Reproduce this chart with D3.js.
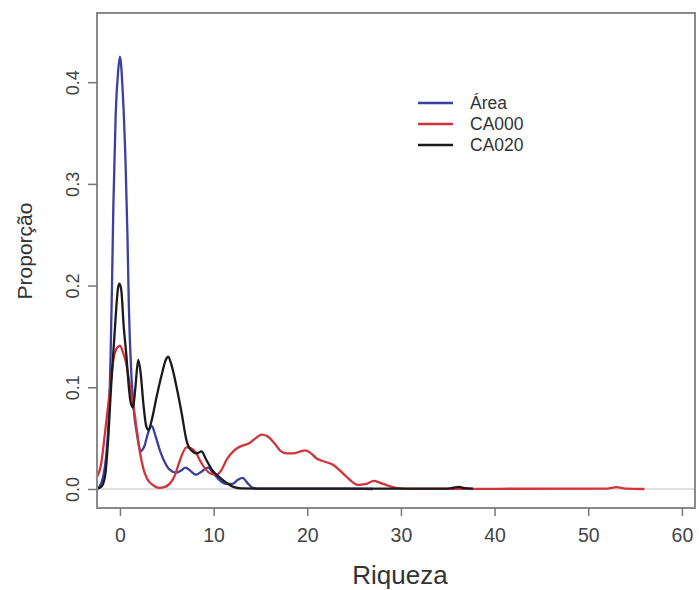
<!DOCTYPE html>
<html>
<head>
<meta charset="utf-8">
<script src="https://cdn.jsdelivr.net/npm/d3@7"></script>
<style>
  html, body { margin: 0; padding: 0; background: #fff; }
  svg { display: block; font-family: "Liberation Sans", Arial, sans-serif; }
</style>
</head>
<body>
<svg id="chart" width="699" height="590"></svg>
<script>
// ---- data ----
const seriesNames = ["Área", "CA000", "CA020"];
const seriesColors = ["#3b3fa0", "#d0343a", "#1a1a1a"];

const areaX = [-2.5, -2.2, -1.8, -1.5, -1.2, -1.0, -0.85, -0.7, -0.45, -0.2, 0, 0.3, 0.6, 0.8, 0.95, 1.25, 1.5, 1.8, 2.2, 2.6, 3.0, 3.4, 3.8, 4.3, 4.8, 5.3, 6.0, 6.5, 7.0, 7.5, 8.1, 8.7, 9.4, 10.0, 10.6, 11.3, 12.0, 12.6, 13.1, 13.6, 14.2, 15, 18, 21, 24, 27];
const areaY = [0.0, 0.002, 0.012, 0.03, 0.07, 0.13, 0.2, 0.28, 0.37, 0.41, 0.425, 0.39, 0.32, 0.25, 0.18, 0.107, 0.075, 0.055, 0.037, 0.042, 0.055, 0.062, 0.052, 0.037, 0.026, 0.019, 0.016, 0.018, 0.021, 0.018, 0.014, 0.017, 0.021, 0.015, 0.009, 0.005, 0.005, 0.009, 0.011, 0.006, 0.001, 0.0003, 0.0004, 0.0003, 0.0003, 0.0];

const ca000X = [-2.5, -2.0, -1.6, -1.1, -0.7, -0.3, 0, 0.3, 0.7, 1.0, 1.4, 1.8, 2.1, 2.5, 2.9, 3.5, 4.2, 4.8, 5.3, 5.8, 6.4, 7.1, 7.6, 8.1, 8.6, 9.1, 9.7, 10.3, 10.8, 11.4, 12.2, 12.9, 13.8, 14.5, 15.1, 15.7, 16.4, 17.2, 17.8, 18.5, 19.3, 19.8, 20.4, 21.0, 21.8, 22.7, 23.5, 24.2, 24.8, 25.4, 26.3, 27.1, 27.8, 28.4, 29.5, 30.5, 40, 52, 53, 54, 56];
const ca000Y = [0.011, 0.025, 0.055, 0.095, 0.127, 0.139, 0.141, 0.135, 0.122, 0.105, 0.084, 0.058, 0.038, 0.02, 0.01, 0.004, 0.001, 0.002, 0.005, 0.012, 0.028, 0.041, 0.04, 0.036, 0.027, 0.02, 0.015, 0.014, 0.018, 0.029, 0.038, 0.042, 0.045, 0.05, 0.0535, 0.052, 0.046, 0.037, 0.035, 0.035, 0.037, 0.038, 0.035, 0.03, 0.027, 0.024, 0.018, 0.012, 0.007, 0.004, 0.005, 0.008, 0.006, 0.004, 0.001, 0.0002, 0.0002, 0.0003, 0.0018, 0.0003, 0.0];

const ca020X = [-2.5, -2.0, -1.6, -1.25, -0.95, -0.7, -0.45, -0.2, -0.05, 0.15, 0.4, 0.7, 0.95, 1.15, 1.4, 1.65, 1.95, 2.2, 2.5, 2.8, 3.05, 3.4, 3.9, 4.45, 4.9, 5.15, 5.5, 6.05, 6.6, 7.1, 7.6, 8.2, 8.7, 9.2, 9.9, 10.7, 11.4, 12.1, 13, 20, 30, 35, 35.6, 36.2, 36.8, 37.7];
const ca020Y = [0.0, 0.002, 0.012, 0.05, 0.1, 0.135, 0.17, 0.198, 0.202, 0.195, 0.16, 0.13, 0.1, 0.085, 0.08, 0.1, 0.127, 0.115, 0.084, 0.062, 0.058, 0.068, 0.09, 0.112, 0.127, 0.13, 0.122, 0.1, 0.074, 0.048, 0.038, 0.035, 0.037, 0.029, 0.018, 0.011, 0.006, 0.002, 0.0005, 0.0003, 0.0003, 0.0004, 0.0012, 0.002, 0.0008, 0.0003];

const xTicks = [0, 10, 20, 30, 40, 50, 60];
const yTicks = [0.0, 0.1, 0.2, 0.3, 0.4];
const xLabel = "Riqueza";
const yLabel = "Proporção";

// ---- layout ----
const svg = d3.select("#chart");
const plot = { left: 97, right: 695, top: 13, bottom: 508 };
const x = d3.scaleLinear().domain([-2.45, 61.4]).range([plot.left, plot.right]);
const y = d3.scaleLinear().domain([-0.0187, 0.468]).range([plot.bottom, plot.top]);

// zero reference line
svg.append("line")
  .attr("x1", plot.left).attr("x2", plot.right)
  .attr("y1", y(0)).attr("y2", y(0))
  .attr("stroke", "#d4d4d4").attr("stroke-width", 1.5);

// curves
const series = [
  { xs: areaX, ys: areaY },
  { xs: ca000X, ys: ca000Y },
  { xs: ca020X, ys: ca020Y }
];
const line = d3.line().x(d => x(d[0])).y(d => y(d[1])).curve(d3.curveMonotoneX);
series.forEach((s, i) => {
  const pts = s.xs.map((v, j) => [v, s.ys[j]]);
  svg.append("path")
    .attr("d", line(pts))
    .attr("fill", "none")
    .attr("stroke", seriesColors[i])
    .attr("stroke-width", 2.3)
    .attr("stroke-linejoin", "round");
});

// frame
svg.append("rect")
  .attr("x", plot.left).attr("y", plot.top)
  .attr("width", plot.right - plot.left).attr("height", plot.bottom - plot.top)
  .attr("fill", "none").attr("stroke", "#8a8a8a").attr("stroke-width", 2);

// axes
const xAxis = d3.axisBottom(x).tickValues(xTicks).tickSize(8).tickPadding(12).tickFormat(d3.format("d"));
const gx = svg.append("g").attr("transform", `translate(0,${plot.bottom})`).call(xAxis);
gx.select(".domain").remove();
gx.selectAll(".tick line").attr("stroke", "#777").attr("stroke-width", 1.5);
gx.selectAll(".tick text").attr("fill", "#444").style("font-size", "19.5px")
  .style("font-family", "'Liberation Sans', Arial, sans-serif");

const yAxis = d3.axisLeft(y).tickValues(yTicks).tickSize(9).tickFormat(d3.format(".1f"));
const gy = svg.append("g").attr("transform", `translate(${plot.left},0)`).call(yAxis);
gy.select(".domain").remove();
gy.selectAll(".tick line").attr("stroke", "#777").attr("stroke-width", 1.5);
gy.selectAll(".tick text")
  .attr("x", null).attr("dy", null)
  .attr("fill", "#444").style("font-size", "18px")
  .style("font-family", "'Liberation Sans', Arial, sans-serif")
  .attr("text-anchor", "middle")
  .attr("transform", "translate(-24,0) rotate(-90)")
  .attr("dy", "0.35em");

// axis titles
svg.append("text")
  .attr("x", (plot.left + plot.right) / 2 + 4).attr("y", 584)
  .attr("text-anchor", "middle").attr("fill", "#333")
  .style("font-size", "26px").text(xLabel);
svg.append("text")
  .attr("transform", `translate(32,251) rotate(-90)`)
  .attr("text-anchor", "middle").attr("fill", "#333")
  .style("font-size", "21px").text(yLabel);

// legend
const legend = svg.append("g").attr("transform", "translate(418,103)");
seriesNames.forEach((name, i) => {
  const g = legend.append("g").attr("transform", `translate(0,${i * 21})`);
  g.append("line").attr("x1", 0).attr("x2", 35).attr("y1", 0).attr("y2", 0)
    .attr("stroke", seriesColors[i]).attr("stroke-width", 2.3);
  g.append("text").attr("x", 52).attr("y", 0).attr("dy", "0.35em")
    .attr("fill", "#333").style("font-size", "17.5px").text(name);
});
</script>
</body>
</html>
